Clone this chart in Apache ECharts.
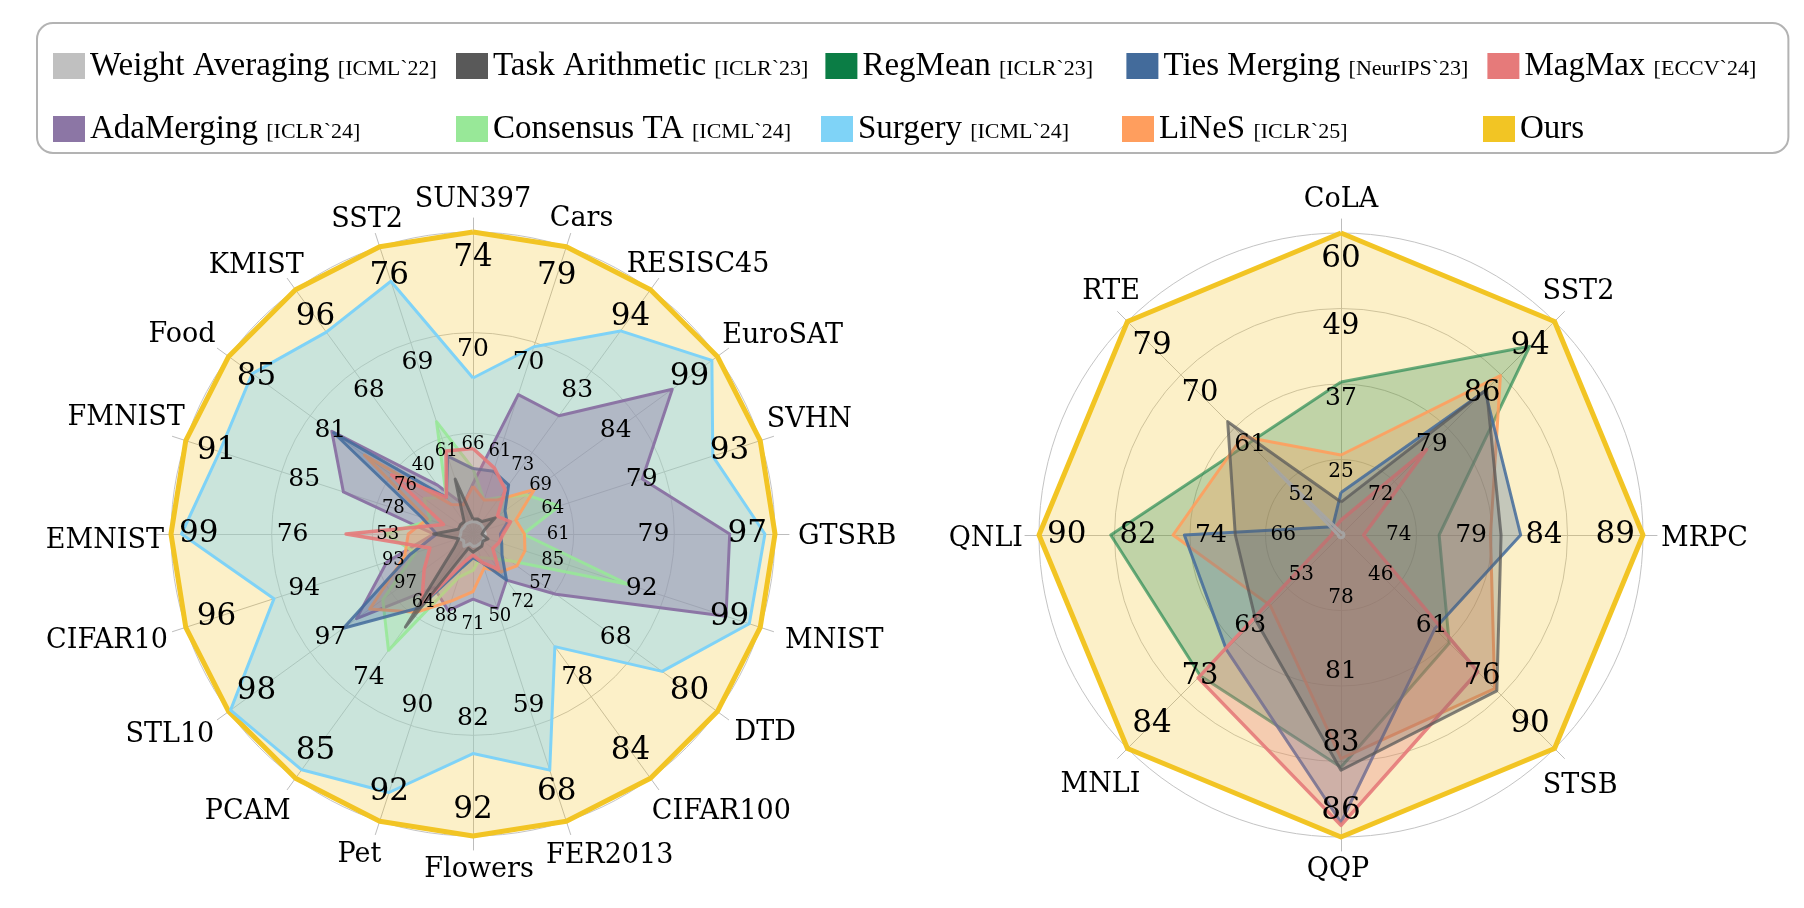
<!DOCTYPE html>
<html><head><meta charset="utf-8">
<script src="https://cdn.jsdelivr.net/npm/echarts@6/dist/echarts.min.js"></script>
<style>html,body{margin:0;padding:0;background:#fff}#c{width:1804px;height:908px}</style>
</head><body><div id="c"></div>
<script>
// ---------------- DATA ----------------
const methods = ['Weight Averaging','Task Arithmetic','RegMean','Ties Merging','MagMax','AdaMerging','Consensus TA','Surgery','LiNeS','Ours'];
const venues  = ['ICML`22','ICLR`23','ICLR`23','NeurIPS`23','ECCV`24','ICLR`24','ICML`24','ICML`24','ICLR`25',''];

// Vision tasks (left radar), clockwise from the top
const visionTasks = ['SUN397','Cars','RESISC45','EuroSAT','SVHN','GTSRB','MNIST','DTD','CIFAR100','FER2013','Flowers','Pet','PCAM','STL10','CIFAR10','EMNIST','FMNIST','Food','KMIST','SST2'];
const visionMin   = [62, 52, 62.5, 54, 49.6, 43, 78, 45.4, 66, 41, 60.6, 86, 53.4, 96.6, 91.5, 30, 71.6, 71.6, 12, 53.6];
const visionOurs  = [74, 79, 93.9, 99, 93.2, 97, 99, 79.9, 84, 68, 92.1, 92, 84.9, 97.9, 95.7, 99, 91.1, 85.1, 96, 76.1];
const visionSurgery          = [68.2, 69.6, 88.6, 98.0, 86.0, 95.2, 98.2, 72.1, 74.3, 63.2, 83.5, 91.4, 83.8, 97.89, 94.41, 96.6, 88.8, 83.8, 81.4, 73.4];
const visionAdaMerging       = [64.0, 65.1, 77.7, 90.7, 75.3, 88.9, 96.5, 57.1, 69.4, 48.0, 67.4, 87.6, 60.3, 97.22, 92.76, 39.0, 80.4, 79.4, 28.8, 55.9];
const visionConsensusTA      = [64.6, 55.2, 67.2, 63.9, 62.7, 52.0, 89.3, 50.6, 67.8, 43.2, 64.4, 86.9, 68.4, 97.08, 92.34, 50.0, 74.5, 74.3, 24.6, 62.4];
const visionLiNeS            = [63.9, 55.2, 66.9, 65.3, 56.1, 52.2, 81.8, 51.6, 68.8, 44.2, 66.6, 87.4, 63.5, 97.15, 92.5, 44.8, 74.7, 77.6, 22.1, 55.9];
const visionTiesMerging      = [64.6, 57.9, 68.8, 59.9, 54.8, 47.9, 80.1, 49.5, 69.4, 43.7, 63.1, 86.7, 62.9, 97.29, 92.42, 38.3, 75.1, 79.3, 24.6, 59.7];
const visionMagMax           = [65.4, 58.2, 68.2, 58.5, 55.3, 48.4, 79.9, 48.2, 68.6, 43.7, 62.8, 86.6, 62.5, 96.86, 92.13, 59.0, 73.6, 76.1, 24.6, 60.1];
const visionWeightAveraging  = [62.5, 53.1, 63.8, 55.8, 51.3, 45.2, 78.8, 46.8, 66.7, 42.1, 61.9, 86.2, 55.0, 96.65, 91.7, 32.8, 72.4, 72.1, 15.4, 54.5];
const visionTaskArithmetic   = [62.6, 53.4, 64.1, 58.1, 51.3, 44.6, 79.1, 46.8, 66.9, 42.4, 62.5, 86.3, 65.4, 96.7, 91.71, 39.0, 72.6, 72.3, 16.2, 57.9];

// NLP tasks (right radar), clockwise from the top
const nlpTasks = ['CoLA','SST2','MRPC','STSB','QQP','MNLI','QNLI','RTE'];
const nlpMin   = [13.6, 64.4, 69.2, 31.2, 75.4, 42.8, 58, 43];
const nlpOurs  = [60.4, 93.6, 89.2, 90.4, 85.8, 83.6, 90, 79];
const nlpRegMean          = [37.3, 90.2, 75.7, 61.2, 83.4, 69.7, 82.4, 58.5];
const nlpLiNeS            = [26.0, 86.2, 79.1, 73.8, 83.1, 56.3, 75.8, 59.6];
const nlpTiesMerging      = [20.2, 84.1, 81.1, 57.2, 85.3, 64.7, 74.6, 44.4];
const nlpMagMax           = [15.9, 76.1, 70.7, 69.1, 85.4, 70.1, 59.0, 44.1];
const nlpWeightAveraging  = [14.0, 64.7, 69.4, 31.8, 75.5, 43.2, 58.3, 55.1];
const nlpTaskArithmetic   = [18.7, 84.3, 79.8, 74.4, 83.5, 59.1, 69.2, 62.1];

// ---------------- STYLE ----------------
const styles = {
  'Weight Averaging': {color:'#c0c0c0', lw:3,   lo:0.9,  ao:0.25},
  'Task Arithmetic':  {color:'#595959', lw:3,   lo:0.75, ao:0.25},
  'RegMean':          {color:'#0b7d45', lw:3,   lo:0.6,  ao:0.25},
  'Ties Merging':     {color:'#436b9b', lw:3,   lo:0.85, ao:0.3},
  'MagMax':           {color:'#e67a7a', lw:3.5, lo:0.9,  ao:0.3},
  'AdaMerging':       {color:'#8c76a5', lw:3,   lo:1,    ao:0.4},
  'Consensus TA':     {color:'#98e898', lw:3,   lo:0.9,  ao:0.3},
  'Surgery':          {color:'#7fd3f7', lw:3,   lo:1,    ao:0.4},
  'LiNeS':            {color:'#ff9e5e', lw:3,   lo:0.9,  ao:0.3},
  'Ours':             {color:'#f2c524', lw:5,   lo:1,    ao:0.25}
};
const serif = 'DejaVu Serif';
const nameSize = 27;
const legendColWidths = [349, 311, 247, 307, 234];
// small per-axis text nudges (px) for the task names, clockwise order
const visionNameNudge = [[0,-8],[5,4],[10,27],[10,20],[-5,-3],[10,3],[14,-6],[12,-5],[34,-17],[30,-6],
                         [6,10],[-11,5],[-20,-4],[-14,-9],[-8,-9],[6,7],[9,0],[-9,6],[-10,17],[-2,6]];
const nlpNameNudge = [[0,-10],[-8,2],[6,4],[-7,5],[-3,10],[7,2],[-4,4],[12,-1]];

// ---------------- HELPERS ----------------
const mctx = document.createElement('canvas').getContext('2d');
function textWidth(t, size) { mctx.font = size + 'px "' + serif + '"'; return mctx.measureText(t).width; }
function supportDist(th, w, h) { return Math.abs(Math.cos(th)) * w / 2 + Math.abs(Math.sin(th)) * h / 2; }
function padFor(sx, sy) { return [Math.max(0, 2*sy), Math.max(0, -2*sx), Math.max(0, -2*sy), Math.max(0, 2*sx)]; }
// ECharts radar runs counter-clockwise; convert clockwise lists
function ecOrder(arr) { return arr.map((_, k) => arr[k === 0 ? 0 : arr.length - k]); }

const radars = [];
const series = [];
const hiddenParts = {axisName: {show: false}, axisTick: {show: false}, splitArea: {show: false}};

function buildChart(cfg, seriesList) {
  const n = cfg.tasks.length;
  const tasks = ecOrder(cfg.tasks), mins = ecOrder(cfg.mins), maxs = ecOrder(cfg.maxs), nudges = ecOrder(cfg.nudges);
  const angles = tasks.map((_, k) => Math.PI / 2 + k * 2 * Math.PI / n);
  const gridIdx = radars.length;
  // rings
  radars.push(Object.assign({
    center: cfg.center, radius: cfg.radius, startAngle: 90, splitNumber: cfg.splits, shape: 'circle',
    indicator: tasks.map((t, k) => ({name: t, min: mins[k], max: maxs[k]})),
    axisLine: {show: false}, axisLabel: {show: false},
    splitLine: {show: true, lineStyle: {color: '#c4c4c4', width: 1}}
  }, hiddenParts));
  // spokes + task names (names drawn as the label of the outer tick)
  radars.push(Object.assign({
    center: cfg.center, radius: cfg.axisRadius, startAngle: 90, splitNumber: 1, shape: 'circle',
    indicator: tasks.map((t, k) => {
      const th = angles[k];
      const d = supportDist(th, textWidth(t, nameSize), 22) + cfg.nameBase - cfg.axisRadius;
      const sx = Math.cos(th) * d + nudges[k][0], sy = -Math.sin(th) * d + nudges[k][1];
      return {name: t, min: 0, max: 1,
        axisLabel: {show: true, margin: 0, align: 'center', verticalAlign: 'middle',
          rich: {n: {fontSize: nameSize, fontFamily: serif, color: '#000', padding: padFor(sx, sy)}},
          formatter: function (v) { return v >= 0.5 ? '{n|' + t + '}' : ''; }}};
    }),
    axisLine: {show: true, lineStyle: {color: '#bdbdbd', width: 1}},
    splitLine: {show: false}
  }, hiddenParts));
  // per-axis tick values
  radars.push(Object.assign({
    center: cfg.center, radius: cfg.radius, startAngle: 90, splitNumber: cfg.splits, shape: 'circle', z: 10,
    indicator: tasks.map((t, k) => {
      const th = angles[k], mn = mins[k], mx = maxs[k];
      const rich = {};
      for (let r = 1; r <= cfg.splits; r++) {
        const v = mn + (mx - mn) * r / cfg.splits;
        const fs = cfg.labelSizes[r - 1];
        const d = supportDist(th, textWidth(String(Math.round(v)), fs), fs * 0.73 + cfg.labelExtraH[r - 1]) + cfg.labelExtra[r - 1];
        rich['r' + r] = {fontSize: fs, fontFamily: serif, color: '#000',
          padding: padFor(-Math.cos(th) * d, Math.sin(th) * d)};
      }
      return {name: t, min: mn, max: mx,
        axisLabel: {show: true, margin: 0, align: 'center', verticalAlign: 'middle', rich: rich,
          formatter: function (v) {
            const r = Math.round((v - mn) / (mx - mn) * cfg.splits);
            return r <= 0 ? '' : '{r' + r + '|' + Math.round(v) + '}';
          }}};
    }),
    axisLine: {show: false}, splitLine: {show: false}
  }, hiddenParts));
  seriesList.forEach(([name, values]) => {
    const s = styles[name];
    series.push({
      type: 'radar', name: name, radarIndex: gridIdx, symbol: 'none', silent: true,
      itemStyle: {color: s.color},
      lineStyle: {color: s.color, width: s.lw, opacity: s.lo},
      areaStyle: {color: s.color, opacity: s.ao},
      data: [{name: name, value: ecOrder(values)}]
    });
  });
}

buildChart({tasks: visionTasks, mins: visionMin, maxs: visionOurs, nudges: visionNameNudge, splits: 3, center: [473, 534],
  radius: 302, axisRadius: 316, nameBase: 315, labelSizes: [18, 25, 31], labelExtra: [4, 5, 8], labelExtraH: [0, 6, 13]}, [
  ['Ours', visionOurs], ['Surgery', visionSurgery], ['AdaMerging', visionAdaMerging],
  ['Consensus TA', visionConsensusTA], ['LiNeS', visionLiNeS], ['Ties Merging', visionTiesMerging],
  ['MagMax', visionMagMax], ['Weight Averaging', visionWeightAveraging], ['Task Arithmetic', visionTaskArithmetic]
]);
buildChart({tasks: nlpTasks, mins: nlpMin, maxs: nlpOurs, nudges: nlpNameNudge, splits: 4, center: [1341, 535],
  radius: 302, axisRadius: 316, nameBase: 314, labelSizes: [20, 25, 29, 31], labelExtra: [5, 5, 5, 8], labelExtraH: [0, 0, 4, 13]}, [
  ['Ours', nlpOurs], ['RegMean', nlpRegMean], ['LiNeS', nlpLiNeS], ['Ties Merging', nlpTiesMerging],
  ['MagMax', nlpMagMax], ['Weight Averaging', nlpWeightAveraging], ['Task Arithmetic', nlpTaskArithmetic]
]);

const chart = echarts.init(document.getElementById('c'), null, {renderer: 'canvas', width: 1804, height: 908});
chart.setOption({
  animation: false,
  backgroundColor: '#fff',
  legend: {
    left: 37, top: 23, width: 1720, orient: 'horizontal',
    padding: [20, 30, 1, 16], itemGap: 17, itemWidth: 32, itemHeight: 26, icon: 'rect',
    borderColor: '#b3b3b3', borderWidth: 2, borderRadius: 16, selectedMode: false,
    itemStyle: {borderWidth: 0, opacity: 1},
    data: methods.map((m, i) => ({name: m, textStyle: {width: legendColWidths[i % 5]}})),
    formatter: function (name) {
      const v = venues[methods.indexOf(name)];
      return v ? '{n|' + name + ' }{v|[' + v + ']}' : '{n|' + name + '}';
    },
    textStyle: {
      fontFamily: 'Liberation Serif', fontSize: 33, color: '#000', lineHeight: 46,
      rich: {
        n: {fontFamily: 'Liberation Serif', fontSize: 33, color: '#000', lineHeight: 46},
        v: {fontFamily: 'Liberation Serif', fontSize: 22, color: '#000', padding: [7, 0, 0, 0]}
      }
    }
  },
  radar: radars,
  series: series
});
</script>
</body></html>
